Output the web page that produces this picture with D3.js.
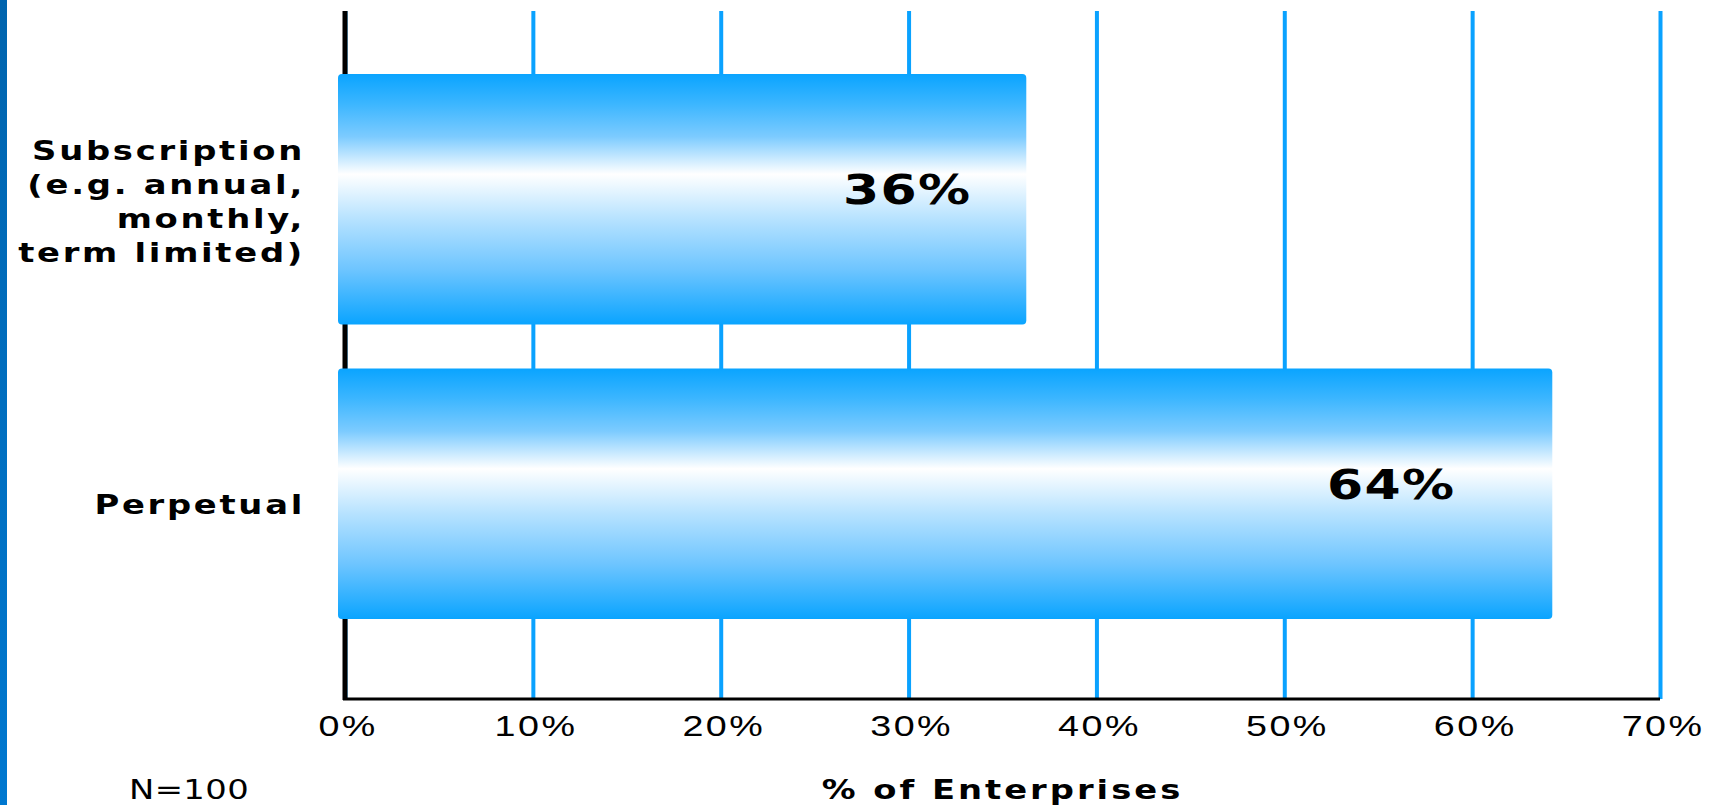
<!DOCTYPE html>
<html>
<head>
<meta charset="utf-8">
<script src="https://cdn.jsdelivr.net/npm/d3@7"></script>
<style>
  body { margin: 0; background: #fff; }
  svg { display: block; font-family: 'DejaVu Sans', sans-serif; }
</style>
</head>
<body>
<div id="chart"></div>
<script>
// data
const categories = ['Subscription', 'Perpetual'];
const categoryLines = [
  ['Subscription', '(e.g. annual,', 'monthly,', 'term limited)'],
  ['Perpetual']
];
const values = [36, 64];
const tickValues = [0, 10, 20, 30, 40, 50, 60, 70];
const sampleNote = 'N=100';
const axisTitle = '% of Enterprises';

const width = 1721;
const height = 805;
const plot = {left: 345, right: 1660, top: 11, bottom: 699};
const wide = 1.3; // the original face is an extended one

const svg = d3.select('#chart').append('svg')
  .attr('width', width)
  .attr('height', height);
const defs = svg.append('defs');

// left edge strip
const stripGrad = defs.append('linearGradient')
  .attr('id', 'strip-gradient')
  .attr('x1', 0).attr('y1', 0).attr('x2', 0).attr('y2', 1);
stripGrad.append('stop').attr('offset', '0%').attr('stop-color', '#0064ae');
stripGrad.append('stop').attr('offset', '100%').attr('stop-color', '#0078d0');
svg.append('rect')
  .attr('x', 0).attr('y', 0)
  .attr('width', 7).attr('height', height)
  .style('fill', 'url(#strip-gradient)');

// bar gradient (blue - white - blue)
const barGrad = defs.append('linearGradient')
  .attr('id', 'bar-gradient')
  .attr('x1', 0).attr('y1', 0).attr('x2', 0).attr('y2', 1);
[
  {offset: '0%', color: '#0aa4ff'},
  {offset: '12%', color: '#3cb6ff'},
  {offset: '25%', color: '#7ccbff'},
  {offset: '40%', color: '#ffffff'},
  {offset: '58%', color: '#b6e2ff'},
  {offset: '78%', color: '#6ec5ff'},
  {offset: '100%', color: '#0aa4ff'}
].forEach(s => barGrad.append('stop').attr('offset', s.offset).attr('stop-color', s.color));

const x = d3.scaleLinear()
  .domain([0, 70])
  .range([plot.left, plot.right]);

const y = d3.scaleBand()
  .domain(categories)
  .range([74, 619])
  .paddingInner(0.15)
  .paddingOuter(0);

// grid + x axis
const xAxis = svg.append('g')
  .attr('transform', `translate(0,${plot.bottom})`)
  .call(d3.axisBottom(x)
    .tickValues(tickValues)
    .tickSize(-(plot.bottom - plot.top))
    .tickPadding(16)
    .tickFormat(d => d + '%'));

xAxis.select('.domain').remove();
xAxis.selectAll('.tick line')
  .attr('stroke', '#0aa2ff')
  .attr('stroke-width', 4);
xAxis.selectAll('.tick text')
  .attr('fill', '#000')
  .attr('transform', `scale(${wide},1)`)
  .attr('dx', '2px')
  .style('font-size', '29px')
  .style('letter-spacing', '1.9px');

// axis lines
svg.append('line')
  .attr('x1', x(0) - 2).attr('x2', x(70))
  .attr('y1', plot.bottom).attr('y2', plot.bottom)
  .attr('stroke', '#000').attr('stroke-width', 3);
svg.append('line')
  .attr('x1', x(0)).attr('x2', x(0))
  .attr('y1', plot.top).attr('y2', plot.bottom + 1)
  .attr('stroke', '#000').attr('stroke-width', 5);

// bars
const bars = svg.append('g');
bars.selectAll('rect')
  .data(values)
  .enter().append('rect')
  .attr('x', x(0) - 7)
  .attr('y', (d, i) => y(categories[i]))
  .attr('width', d => x(d) - x(0) + 12)
  .attr('height', y.bandwidth())
  .attr('rx', 4)
  .style('fill', 'url(#bar-gradient)');

// value labels
bars.selectAll('text')
  .data(values)
  .enter().append('text')
  .attr('transform', (d, i) =>
    `translate(${x(0) + (x(d) - x(0)) * 0.92 - 60},${y(categories[i]) + y.bandwidth() / 2 + 5}) scale(${wide},1)`)
  .attr('text-anchor', 'middle')
  .style('font-size', '40px')
  .style('font-weight', 'bold')
  .style('letter-spacing', '1px')
  .text(d => d + '%');

// category labels
const labels = svg.append('g');
categoryLines.forEach((lines, i) => {
  const lineH = 34;
  const cy = y(categories[i]) + y.bandwidth() / 2;
  const t = labels.append('text')
    .attr('transform', `translate(305,0) scale(${wide},1)`)
    .attr('text-anchor', 'end')
    .style('font-size', '26px')
    .style('font-weight', 'bold')
    .style('letter-spacing', '2.1px');
  lines.forEach((line, j) => {
    t.append('tspan')
      .attr('x', 0)
      .attr('y', cy + 12 + (j - (lines.length - 1) / 2) * lineH + (lines.length > 1 ? 0 : 8))
      .text(line);
  });
});

// footer texts
svg.append('text')
  .attr('transform', `translate(129,799) scale(${wide},1)`)
  .style('font-size', '26px')
  .style('letter-spacing', '0.3px')
  .text(sampleNote);

svg.append('text')
  .attr('transform', `translate(${(x(0) + x(70)) / 2},799) scale(${wide},1)`)
  .attr('text-anchor', 'middle')
  .style('font-size', '26px')
  .style('font-weight', 'bold')
  .style('letter-spacing', '2.3px')
  .text(axisTitle);
</script>
</body>
</html>
